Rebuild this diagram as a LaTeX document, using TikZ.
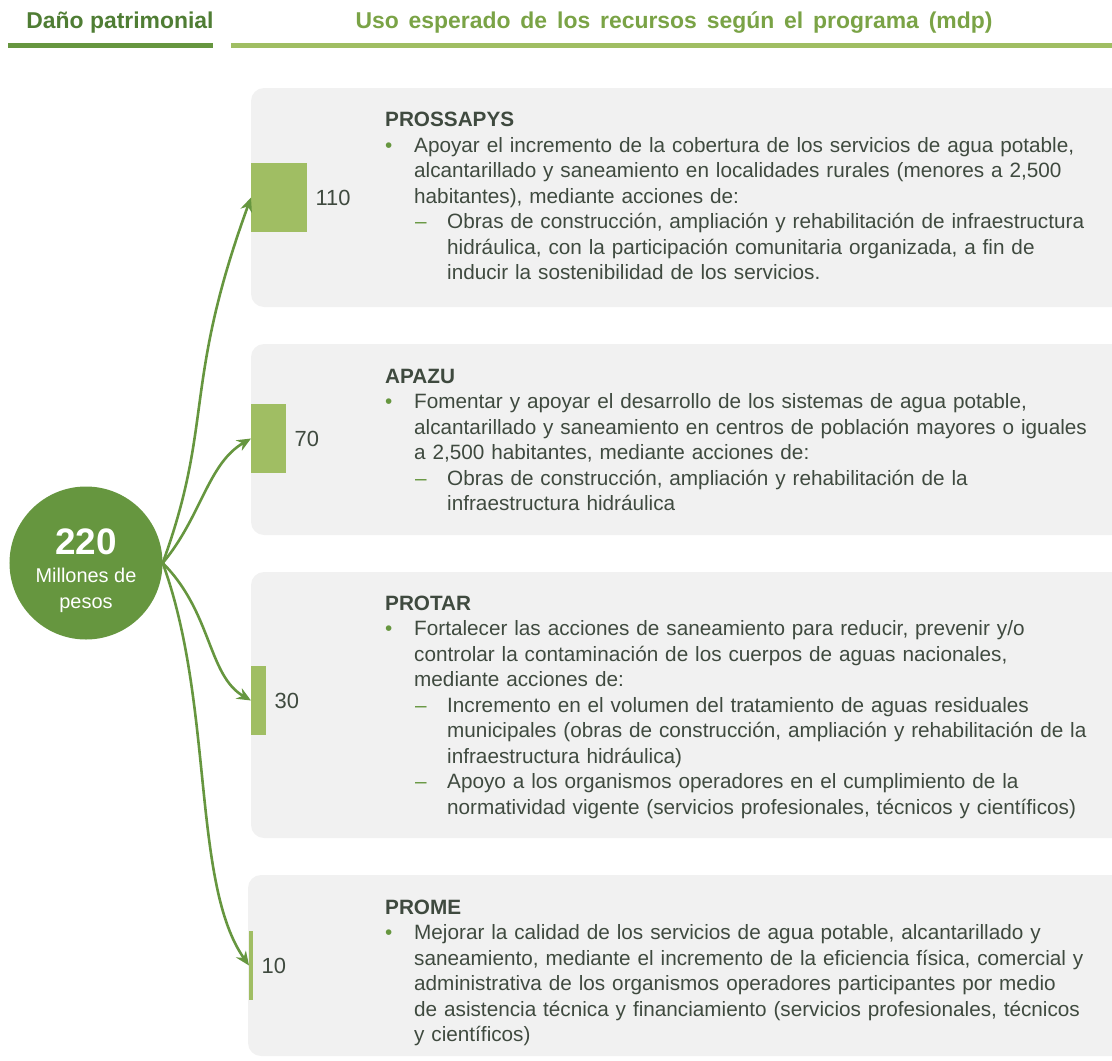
\documentclass[tikz,border=0pt]{standalone}
\usepackage{fontspec}
\setmainfont{Liberation Sans}
\usetikzlibrary{positioning,arrows.meta}
\definecolor{verdeo}{HTML}{66963F}
\definecolor{verdec}{HTML}{A0BE63}
\definecolor{verdet}{HTML}{4F7D34}
\definecolor{verdeu}{HTML}{7AA346}
\definecolor{grisf}{HTML}{F1F1F1}
\definecolor{texto}{HTML}{3F4A3F}
\newcommand{\pto}{\makebox[29bp][l]{\textcolor{verdeo}{•}}}
\newcommand{\gui}{\hspace*{30bp}\makebox[32bp][l]{\textcolor{verdeo}{–}}}
\newcommand{\sangA}{\hspace*{29bp}}
\newcommand{\sangB}{\hspace*{62bp}}
\newcommand{\espuso}{\spaceskip 9.9bp\relax}
\newcommand{\espcuerpo}{\spaceskip 6.8bp plus 1bp\relax}
\begin{document}
\begin{tikzpicture}[x=1bp,y=1bp,
    caja/.style={fill=grisf,rounded corners=13bp},
    barra/.style={fill=verdec,inner sep=0,minimum height=69bp,anchor=west},
    cifra/.style={inner sep=0,text=texto,font=\fontsize{22}{22}\selectfont},
    cuerpo/.style={anchor=base west,inner sep=0,text width=760bp,align=left,text=texto,font=\fontsize{20.8}{25.6}\selectfont\espcuerpo},
    flecha/.style={draw=verdeo,line width=2.6bp,-{Stealth[length=14bp,width=12bp]}},
    titulo/.style={anchor=base,inner sep=0,font=\fontsize{23}{23}\selectfont\bfseries},
    blanco/.style={anchor=base,inner sep=0,text=white}]
        \useasboundingbox (0,0) rectangle (1112,-1061);

        \node[titulo,text=verdet] (dano) at (120,-28.5) {Daño patrimonial};
        \node[titulo,text=verdeu,font=\fontsize{23}{23}\selectfont\bfseries\espuso] (uso) at (674,-28.5) {Uso esperado de los recursos según el programa (mdp)};
        \fill[verdeo] (8,-43) rectangle (213,-48);
        \fill[verdec] (231,-43) rectangle (1112,-48);

        \fill[caja] (251,-88) rectangle (1140,-307);
        \fill[caja] (251,-344) rectangle (1140,-535);
        \fill[caja] (251,-572) rectangle (1140,-838);
        \fill[caja] (248,-875) rectangle (1140,-1056);

        \node[barra,minimum width=56bp] (b110) at (251,-197.5) {};
        \node[barra,minimum width=35bp] (b70) at (251,-438.5) {};
        \node[barra,minimum width=15bp] (b30) at (251,-700.5) {};
        \node[barra,minimum width=4bp] (b10) at (249,-965.5) {};

        \node[cifra,right=8bp of b110] (n110) {110};
        \node[cifra,right=8bp of b70] (n70) {70};
        \node[cifra,right=8bp of b30] (n30) {30};
        \node[cifra,right=8bp of b10] (n10) {10};

        \node[circle,fill=verdeo,minimum size=153bp,inner sep=0] (total) at (86,-563) {};
        \node[blanco,font=\fontsize{37}{37}\selectfont\bfseries] (monto) at (86,-554) {220};
        \node[blanco,font=\fontsize{20}{20}\selectfont] (mill) at (86,-582) {Millones de};
        \node[blanco,font=\fontsize{20}{20}\selectfont] (pesos) at (86,-608) {pesos};

        \draw[flecha] (total.east) to[out=70,in=250,out distance=150bp,in distance=200bp] (b110.west);
        \draw[flecha] (total.east) to[out=50,in=210,out distance=60bp,in distance=50bp] (b70.west);
        \draw[flecha] (total.east) to[out=-45,in=150,out distance=70bp,in distance=50bp] (b30.west);
        \draw[flecha] (total.east) to[out=-70,in=125,out distance=150bp,in distance=100bp] (b10.west);

        \node[cuerpo] (prossapys) at (385,-126.7) {\textbf{PROSSAPYS}\\
            \pto Apoyar el incremento de la cobertura de los servicios de agua potable,\\
            \sangA alcantarillado y saneamiento en localidades rurales (menores a 2,500\\
            \sangA habitantes), mediante acciones de:\\
            \gui Obras de construcción, ampliación y rehabilitación de infraestructura\\
            \sangB hidráulica, con la participación comunitaria organizada, a fin de\\
            \sangB inducir la sostenibilidad de los servicios.};
        \node[cuerpo] (apazu) at (385,-383) {\textbf{APAZU}\\
            \pto Fomentar y apoyar el desarrollo de los sistemas de agua potable,\\
            \sangA alcantarillado y saneamiento en centros de población mayores o iguales\\
            \sangA a 2,500 habitantes, mediante acciones de:\\
            \gui Obras de construcción, ampliación y rehabilitación de la\\
            \sangB infraestructura hidráulica};
        \node[cuerpo] (protar) at (385,-610) {\textbf{PROTAR}\\
            \pto Fortalecer las acciones de saneamiento para reducir, prevenir y/o\\
            \sangA controlar la contaminación de los cuerpos de aguas nacionales,\\
            \sangA mediante acciones de:\\
            \gui Incremento en el volumen del tratamiento de aguas residuales\\
            \sangB municipales (obras de construcción, ampliación y rehabilitación de la\\
            \sangB infraestructura hidráulica)\\
            \gui Apoyo a los organismos operadores en el cumplimiento de la\\
            \sangB normatividad vigente (servicios profesionales, técnicos y científicos)};
        \node[cuerpo] (prome) at (385,-914.3) {\textbf{PROME}\\
            \pto Mejorar la calidad de los servicios de agua potable, alcantarillado y\\
            \sangA saneamiento, mediante el incremento de la eficiencia física, comercial y\\
            \sangA administrativa de los organismos operadores participantes por medio\\
            \sangA de asistencia técnica y financiamiento (servicios profesionales, técnicos\\
            \sangA y científicos)};
    \end{tikzpicture}
\end{document}
